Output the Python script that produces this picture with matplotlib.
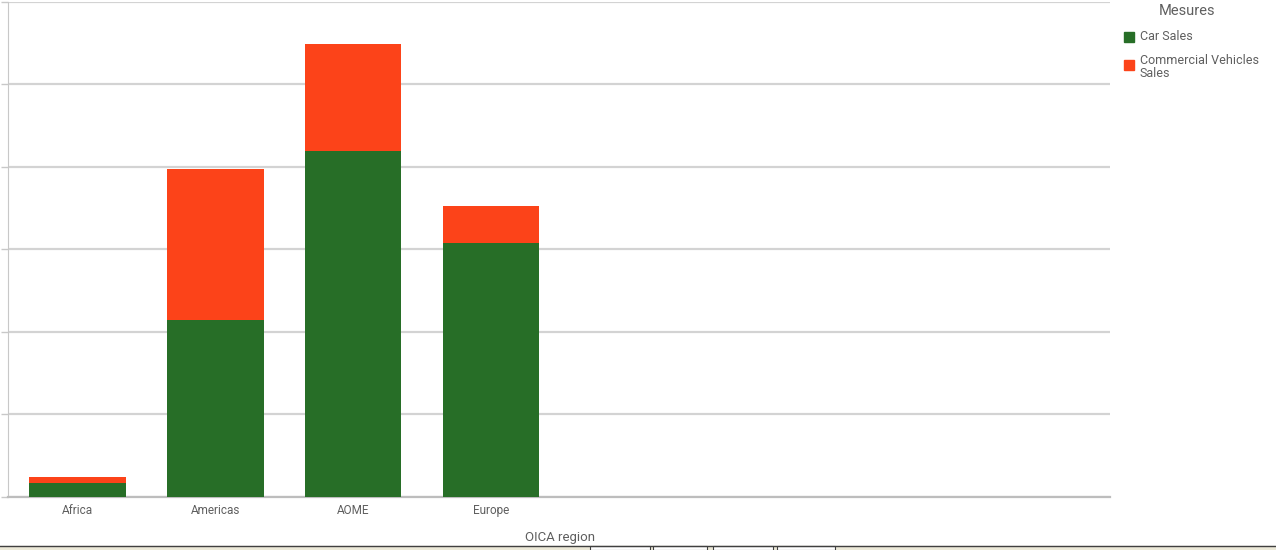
#!/usr/bin/env python3
"""Stacked car / commercial vehicle sales per OICA region."""
import matplotlib

matplotlib.use("Agg")
import matplotlib.pyplot as plt
from matplotlib.patches import Rectangle

regions = ["Africa", "Americas", "AOME", "Europe"]
car_sales = [0.83, 10.71, 20.97, 15.36]
commercial_sales = [0.35, 9.18, 6.49, 2.27]
series_names = ["Car Sales", "Commercial Vehicles\nSales"]

GREEN = "#276E27"
ORANGE = "#FC4319"
GRID = "#D3D3D3"
TEXT = "#5F5F5F"

plt.rcParams["font.family"] = ["Roboto", "DejaVu Sans"]

W, H = 1276, 550
fig = plt.figure(figsize=(W / 100, H / 100), dpi=100)
ax = fig.add_axes([8 / W, 53.5 / H, 1102 / W, 494.5 / H])

x = list(range(len(regions)))
ax.bar(x, car_sales, width=0.70, color=GREEN, label=series_names[0], zorder=3)
ax.bar(x, commercial_sales, width=0.70, bottom=car_sales, color=ORANGE,
       label=series_names[1], zorder=3)

ax.set_xlim(-0.505, 7.495)
ax.set_ylim(0, 30)
ax.set_yticks(range(0, 31, 5))
ax.set_yticklabels([])
ax.yaxis.grid(True, color=GRID, linewidth=1.6, zorder=0)
ax.tick_params(axis="y", length=5, color="#C8C8C8", width=1)
ax.set_xticks(x)
ax.set_xticklabels(regions, fontsize=8.5, color=TEXT)
ax.tick_params(axis="x", length=0, pad=5.5)
for side in ("top", "right"):
    ax.spines[side].set_visible(False)
ax.spines["left"].set_color("#C8C8C8")
ax.spines["bottom"].set_color("#BDBDBD")
ax.spines["bottom"].set_linewidth(1.6)

fig.text(560 / W, 1 - 537 / H, "OICA region", ha="center", va="center",
         fontsize=9.5, color=TEXT)

# legend, drawn by hand to match the layout
fig.text(1187 / W, 1 - 11 / H, "Mesures", ha="center", va="center",
         fontsize=10.5, color=TEXT)
for i, (name, col) in enumerate(zip(series_names, [GREEN, ORANGE])):
    ytop = 32 + i * 28
    fig.patches.append(Rectangle((1124 / W, 1 - (ytop + 9.5) / H), 9.5 / W, 9.5 / H,
                                 transform=fig.transFigure, color=col))
    fig.text(1140 / W, 1 - (ytop - 1.5 - i * 4) / H, name, ha="left", va="top",
             fontsize=9, color=TEXT, linespacing=0.95)

# window chrome strip at the bottom
fig.patches.append(Rectangle((0, 0), 1, 4 / H, transform=fig.transFigure,
                             color="#ECE9D8", zorder=0))
fig.lines.append(plt.Line2D([0, 1], [4 / H, 4 / H], transform=fig.transFigure,
                            color="#404040", linewidth=1))
for x0, x1 in [(590, 650), (653, 707), (713, 773), (777, 835)]:
    fig.patches.append(Rectangle((x0 / W, 0), (x1 - x0) / W, 4 / H,
                                 transform=fig.transFigure, facecolor="white",
                                 edgecolor="#404040", linewidth=0.8))

fig.savefig("out.png", dpi=100)
